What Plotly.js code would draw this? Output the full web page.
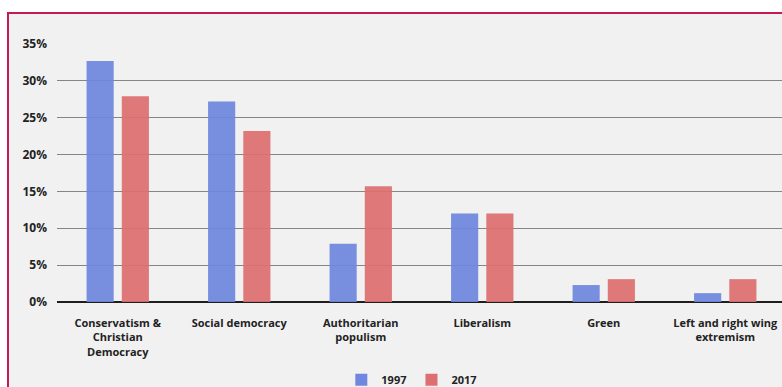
<!DOCTYPE html>
<html>
<head>
<meta charset="utf-8">
<script src="https://cdn.plot.ly/plotly-3.0.1.min.js"></script>
<style>
html,body{margin:0;padding:0;background:#ffffff;overflow:hidden;width:782px;height:387px;}
#frame{position:absolute;left:7px;top:12px;width:900px;height:500px;border-left:2px solid #c41a57;border-top:2px solid #c41a57;background:#f1f1f1;}
#chart{position:absolute;left:0;top:0;width:800px;height:430px;}
</style>
</head>
<body>
<div id="frame"></div>
<div id="chart"></div>
<script>
const categories = [
  "Conservatism &<br>Christian<br>Democracy",
  "Social democracy",
  "Authoritarian<br>populism",
  "Liberalism",
  "Green",
  "Left and right wing<br>extremism"
];
const values1997 = [32.7, 27.2, 7.9, 12.0, 2.3, 1.2];
const values2017 = [27.9, 23.2, 15.7, 12.0, 3.1, 3.1];
const tickValues = [0, 5, 10, 15, 20, 25, 30, 35];

const font = {family: "Open Sans, sans-serif", size: 11, color: "#222222", weight: 700};
const yfont = {family: "Open Sans, sans-serif", size: 12, color: "#222222", weight: 700};

const traces = [
  {type: "bar", name: "1997", x: categories, y: values1997,
   marker: {color: "#6f87de", opacity: 0.93}, hoverinfo: "none"},
  {type: "bar", name: "2017", x: categories, y: values2017,
   marker: {color: "#de6f70", opacity: 0.93}, hoverinfo: "none"}
];

const layout = {
  width: 800, height: 430,
  margin: {l: 57, r: 14, t: 44, b: 128},
  paper_bgcolor: "rgba(0,0,0,0)",
  plot_bgcolor: "rgba(0,0,0,0)",
  barmode: "group",
  bargap: 0.42,
  bargroupgap: 0.23,
  font: font,
  showlegend: true,
  legend: {orientation: "h", x: 0.39, xanchor: "left", y: -0.245, yanchor: "top",
           font: font, bgcolor: "rgba(0,0,0,0)", itemwidth: 30},
  xaxis: {tickfont: font, showgrid: false, showline: false, ticks: "",
          ticklabelstandoff: 13, fixedrange: true},
  yaxis: {range: [0, 35], tickvals: tickValues, ticktext: tickValues.map(v => v + "%"),
          tickfont: yfont, showgrid: true, gridcolor: "#858585", gridwidth: 1,
          zeroline: true, zerolinecolor: "#1e1e1e", zerolinewidth: 2,
          showline: false, ticks: "", ticklabelstandoff: 9, fixedrange: true}
};

Plotly.newPlot("chart", traces, layout, {displayModeBar: false, staticPlot: true});
</script>
</body>
</html>
